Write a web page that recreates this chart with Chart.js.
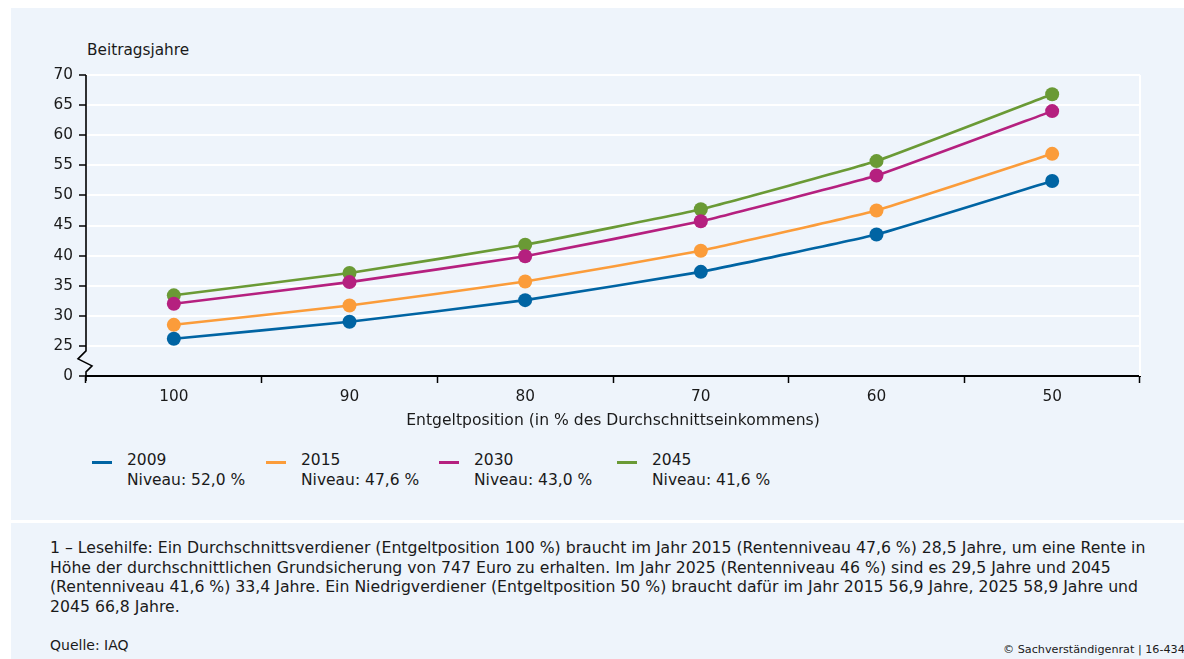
<!DOCTYPE html>
<html lang="de">
<head>
<meta charset="utf-8">
<title>Beitragsjahre bis zur Grundsicherung</title>
<script src="https://cdn.jsdelivr.net/npm/chart.js@4.4.1/dist/chart.umd.min.js"></script>
<style>
  html, body { margin: 0; padding: 0; background: #ffffff; }
  body { width: 1184px; height: 659px; position: relative; overflow: hidden;
         font-family: "DejaVu Sans", sans-serif; color: #1a1a1a; }
  .panel { position: absolute; left: 11px; right: 0; background: #eef4fb; }
  #top { top: 8px; height: 512px; }
  #bottom { top: 523px; height: 136px; }
  #chartWrap { position: absolute; left: 0; top: 0; width: 1184px; height: 440px; }
  #ytitle { position: absolute; left: 87px; top: 41px; font-size: 15.3px; line-height: 18px; }
  #legend { position: absolute; top: 450px; left: 0; width: 1184px; height: 50px; }
  .item { position: absolute; top: 0; font-size: 15.5px; line-height: 20px; }
  .swatch { position: absolute; top: 11px; width: 20px; height: 3px; }
  .item .txt { position: absolute; top: 0; white-space: nowrap; }
  #note { position: absolute; left: 50px; top: 538px; font-size: 15.7px; line-height: 19.7px; white-space: nowrap; }
  #source { position: absolute; left: 50px; top: 636px; font-size: 14px; line-height: 19px; }
  #copy { position: absolute; left: 1003px; top: 643px; font-size: 11.2px; line-height: 14px; white-space: nowrap; }
</style>
</head>
<body>
<div class="panel" id="top"></div>
<div class="panel" id="bottom"></div>
<div id="ytitle">Beitragsjahre</div>
<div id="chartWrap"><canvas id="chart" width="1184" height="440"></canvas></div>
<div id="legend"></div>
<div id="note">1 – Lesehilfe: Ein Durchschnittsverdiener (Entgeltposition 100 %) braucht im Jahr 2015 (Rentenniveau 47,6 %) 28,5 Jahre, um eine Rente in<br>Höhe der durchschnittlichen Grundsicherung von 747 Euro zu erhalten. Im Jahr 2025 (Rentenniveau 46 %) sind es 29,5 Jahre und 2045<br>(Rentenniveau 41,6 %) 33,4 Jahre. Ein Niedrigverdiener (Entgeltposition 50 %) braucht dafür im Jahr 2015 56,9 Jahre, 2025 58,9 Jahre und<br>2045 66,8 Jahre.</div>
<div id="source">Quelle: IAQ</div>
<div id="copy">© Sachverständigenrat | 16-434</div>

<script>
// Entgeltposition in % des Durchschnittseinkommens
const positions = ['100', '90', '80', '70', '60', '50'];

// Benötigte Beitragsjahre je Jahr / Rentenniveau
const years = ['2009', '2015', '2030', '2045'];
const niveau = ['Niveau: 52,0 %', 'Niveau: 47,6 %', 'Niveau: 43,0 %', 'Niveau: 41,6 %'];
const jahre2009 = [26.2, 29.0, 32.6, 37.3, 43.5, 52.4];
const jahre2015 = [28.5, 31.7, 35.7, 40.8, 47.5, 56.9];
const jahre2030 = [32.0, 35.6, 39.9, 45.7, 53.3, 64.0];
const jahre2045 = [33.4, 37.1, 41.8, 47.7, 55.7, 66.8];

// y-axis ticks: the lowest gridline stands for 0 (axis break below 25)
const yTicks = [0, 25, 30, 35, 40, 45, 50, 55, 60, 65, 70];

const colors = ['#0064a3', '#fb9c3a', '#b5207f', '#6a9a35'];
const series = [jahre2009, jahre2015, jahre2030, jahre2045];

const AXIS_BREAK = 20; // scale value at which the "0" tick is drawn

const FONT = 'DejaVu Sans';
Chart.defaults.font.family = FONT;
Chart.defaults.color = '#1a1a1a';

// legend
const legend = document.getElementById('legend');
const legendX = [92, 266, 439, 617];
years.forEach((y, i) => {
  const item = document.createElement('div');
  item.className = 'item';
  item.style.left = legendX[i] + 'px';
  item.innerHTML = '<div class="swatch" style="left:0;background:' + colors[i] + '"></div>' +
    '<div class="txt" style="left:35px">' + y + '<br>' + niveau[i] + '</div>';
  legend.appendChild(item);
});

// y-axis line with a break mark between 0 and 25, plus white frame on the right
const axisBreak = {
  id: 'axisBreak',
  beforeDatasetsDraw(chart) {
    const { ctx, chartArea } = chart;
    ctx.save();
    ctx.strokeStyle = '#ffffff';
    ctx.lineWidth = 2;
    ctx.beginPath();
    ctx.moveTo(chartArea.right, chartArea.top);
    ctx.lineTo(chartArea.right, chartArea.bottom);
    ctx.stroke();
    ctx.restore();
  },
  afterDraw(chart) {
    const { ctx, chartArea, scales } = chart;
    const x = chartArea.left;
    const y25 = scales.y.getPixelForValue(25);
    const y0 = scales.y.getPixelForValue(AXIS_BREAK);
    ctx.save();
    ctx.strokeStyle = '#000000';
    ctx.lineWidth = 1.6;
    ctx.lineJoin = 'miter';
    ctx.beginPath();
    ctx.moveTo(x, chartArea.top);
    ctx.lineTo(x, y25 + 5);
    ctx.lineTo(x - 8, y25 + 13);
    ctx.lineTo(x + 6, y25 + 20);
    ctx.lineTo(x, y25 + 26);
    ctx.lineTo(x, y0 + 5);
    ctx.stroke();
    ctx.restore();
  }
};

new Chart(document.getElementById('chart'), {
  type: 'line',
  data: {
    labels: positions,
    datasets: years.map((y, i) => ({
      label: y,
      data: series[i],
      borderColor: colors[i],
      backgroundColor: colors[i],
      borderWidth: 2.6,
      pointRadius: 7,
      pointHoverRadius: 7,
      pointBorderWidth: 0,
      tension: 0.1
    }))
  },
  options: {
    responsive: false,
    animation: false,
    events: [],
    layout: { padding: { left: 0, right: 44, top: 75, bottom: 0 } },
    plugins: { legend: { display: false }, tooltip: { enabled: false } },
    scales: {
      x: {
        offset: true,
        grid: { offset: true, drawOnChartArea: false, drawTicks: true, tickLength: 7,
                tickColor: '#000000', tickWidth: 1.5 },
        border: { display: true, color: '#000000', width: 2 },
        ticks: { font: { family: FONT, size: 15.3 }, color: '#1a1a1a', padding: 5, maxRotation: 0 },
        title: { display: true, text: 'Entgeltposition (in % des Durchschnittseinkommens)',
                 font: { family: FONT, size: 15.6 }, color: '#1a1a1a', padding: { top: 0, bottom: 10 } },
        afterFit(scale) { scale.height = 64; }
      },
      y: {
        min: AXIS_BREAK,
        max: 70,
        afterBuildTicks(scale) {
          scale.ticks = yTicks.map(v => ({ value: v === 0 ? AXIS_BREAK : v }));
        },
        ticks: {
          font: { family: FONT, size: 15.3 }, color: '#1a1a1a', padding: 6,
          callback: v => (v === AXIS_BREAK ? '0' : String(v))
        },
        grid: {
          color: c => (c.tick && c.tick.value === AXIS_BREAK ? 'rgba(0,0,0,0)' : '#ffffff'),
          lineWidth: 2, tickColor: '#000000', tickLength: 7, tickWidth: 1.5
        },
        border: { display: false },
        afterFit(scale) { scale.width = 86; }
      }
    }
  },
  plugins: [axisBreak]
});
</script>
</body>
</html>
